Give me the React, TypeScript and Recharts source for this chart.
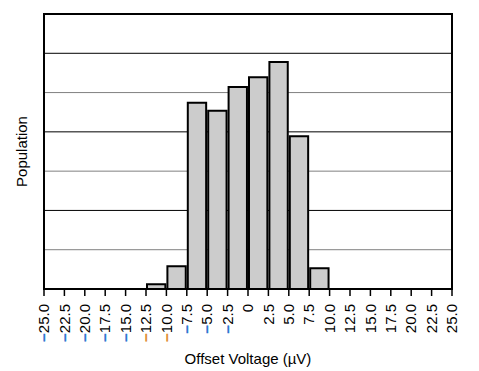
import { Bar, BarChart, CartesianGrid, XAxis, YAxis, ReferenceArea } from "recharts";

// bin centres (µV), 2.5 µV wide bins from -25 to 25
const binCenters = [
  -23.75, -21.25, -18.75, -16.25, -13.75, -11.25, -8.75, -6.25, -3.75, -1.25,
  1.25, 3.75, 6.25, 8.75, 11.25, 13.75, 16.25, 18.75, 21.25, 23.75,
];
const population = [
  0, 0, 0, 0, 0, 0.12, 0.58, 4.74, 4.54, 5.14,
  5.39, 5.78, 3.89, 0.53, 0, 0, 0, 0, 0, 0,
];
const xTicks = [
  -25, -22.5, -20, -17.5, -15, -12.5, -10, -7.5, -5, -2.5, 0,
  2.5, 5, 7.5, 10, 12.5, 15, 17.5, 20, 22.5, 25,
];
const yTicks = [0, 1, 2, 3, 4, 5, 6, 7];
const orangeMinus = [-12.5, -10];

const data = binCenters.map((x, i) => ({ x, count: population[i] }));

const FONT = "'Liberation Sans', Arial, sans-serif";

const Tick = (props: any) => {
  const { x, y, payload } = props;
  const v: number = payload.value;
  const body = v === 0 ? "0" : Math.abs(v).toFixed(1);
  const minusColor = orangeMinus.includes(v) ? "#e08a2a" : "#1f6fd0";
  return (
    <text
      x={x}
      y={y + 6}
      transform={`rotate(-90, ${x}, ${y + 6})`}
      textAnchor="end"
      dy="0.35em"
      fontSize={15}
      fontFamily={FONT}
      fill="#000"
    >
      {v < 0 && (
        <tspan fill={minusColor} stroke={minusColor} strokeWidth={0.6}>
          −
        </tspan>
      )}
      <tspan>{body}</tspan>
    </text>
  );
};

const GridLine = (props: any) => {
  const { x1, x2, y1, y2, index } = props;
  return (
    <line
      key={`g-${index}`}
      x1={x1}
      x2={x2}
      y1={y1}
      y2={y2}
      stroke={index % 2 === 0 ? "#000" : "#808080"}
      strokeWidth={1}
    />
  );
};

export default function App() {
  return (
    <div style={{ position: "absolute", left: 0, top: 0, background: "#fff" }}>
      <BarChart
        width={479}
        height={371}
        data={data}
        margin={{ top: 14, right: 27, left: 0, bottom: 0 }}
        barCategoryGap={0}
        barGap={0}
      >
        <CartesianGrid vertical={false} horizontal={GridLine} />
        <XAxis
          dataKey="x"
          type="number"
          domain={[-25, 25]}
          ticks={xTicks}
          interval={0}
          height={82}
          tick={<Tick />}
          tickSize={7}
          tickLine={{ stroke: "#000", strokeWidth: 1.5 }}
          axisLine={{ stroke: "#000", strokeWidth: 2 }}
          label={{
            value: "Offset Voltage (µV)",
            position: "insideBottom",
            offset: 7,
            fontSize: 15,
            fontFamily: FONT,
            fill: "#000",
          }}
        />
        <YAxis
          type="number"
          domain={[0, 7]}
          ticks={yTicks}
          interval={0}
          width={44}
          tick={() => <g />}
          tickLine={false}
          axisLine={false}
          label={{
            value: "Population",
            angle: -90,
            position: "center",
            fontSize: 15,
            fontFamily: FONT,
            fill: "#000",
          }}
        />
        <ReferenceArea
          x1={-25}
          x2={25}
          y1={0}
          y2={7}
          fill="none"
          stroke="#000"
          strokeWidth={2}
          fillOpacity={0}
        />
        <Bar
          dataKey="count"
          barSize={20.45}
          fill="#cccccc"
          stroke="#000"
          strokeWidth={2}
          isAnimationActive={false}
        />
      </BarChart>
    </div>
  );
}
